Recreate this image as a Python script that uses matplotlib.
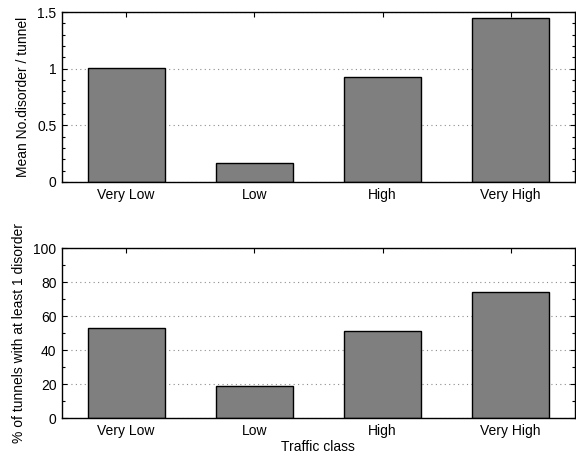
## Traffic class vs. disorder: mean count per tunnel and share of tunnels
import numpy as np
import matplotlib
matplotlib.use('Agg')
import matplotlib.pyplot as plt
from matplotlib.ticker import MultipleLocator

plt.rcParams['font.family'] = ['Liberation Sans', 'DejaVu Sans']
plt.rcParams['font.size'] = 10

classes = ['Very Low', 'Low', 'High', 'Very High']
meanDisorder = [1.01, 0.165, 0.93, 1.445]
pctAtLeastOne = [53.0, 18.7, 51.3, 74.2]

fig = plt.figure(figsize=(5.76, 4.57), dpi=100)
ax1 = fig.add_axes([0.1076, 0.6018, 0.8904, 0.3719])
ax2 = fig.add_axes([0.1076, 0.0853, 0.8904, 0.3720])

x = np.arange(len(classes))

def style(ax, vals, ymax, major, minor, ylabel):
	ax.set_axisbelow(True)
	ax.bar(x, vals, width=0.6, color='#7f7f7f', edgecolor='black', linewidth=1.0, zorder=2)
	ax.set_xlim(-0.5, 3.5)
	ax.set_ylim(0, ymax)
	ax.set_xticks(x)
	ax.set_xticklabels(classes)
	ax.yaxis.set_major_locator(MultipleLocator(major))
	ax.yaxis.set_minor_locator(MultipleLocator(minor))
	ax.tick_params(axis='both', which='major', direction='in', length=3.5, width=0.8,
		top=True, right=True, pad=4)
	ax.tick_params(axis='y', which='minor', direction='in', length=2, width=0.8, right=True)
	ax.tick_params(axis='x', which='minor', bottom=False, top=False)
	ax.grid(axis='y', which='major', color='#8c8c8c', linestyle=(0, (1, 3)), linewidth=0.8)
	for s in ax.spines.values():
		s.set_linewidth(1.0)
	ax.set_ylabel(ylabel, labelpad=5)

style(ax1, meanDisorder, 1.5, 0.5, 0.1, 'Mean No.disorder / tunnel')
ax1.set_yticks([0, 0.5, 1.0, 1.5])
ax1.set_yticklabels(['0', '0.5', '1', '1.5'])
style(ax2, pctAtLeastOne, 100, 20, 10, '% of tunnels with at least 1 disorder')
ax2.set_xlabel('Traffic class', labelpad=2)

fig.savefig('out.png', dpi=100)
